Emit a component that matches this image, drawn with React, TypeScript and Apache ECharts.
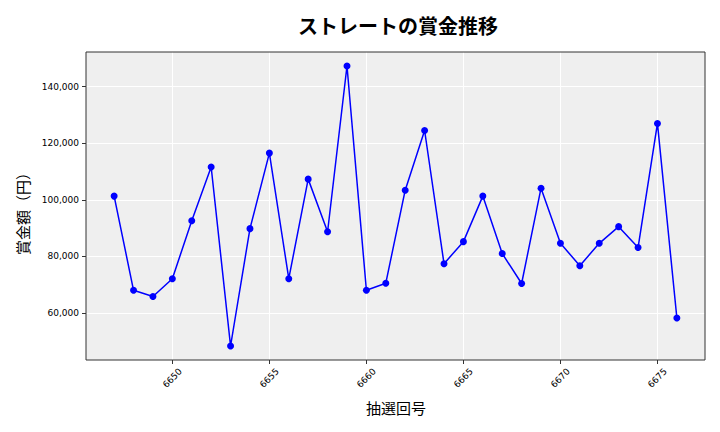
import React, { useEffect, useRef } from "react";
import * as echarts from "echarts";

const draws: number[] = [
  6647, 6648, 6649, 6650, 6651, 6652, 6653, 6654, 6655, 6656,
  6657, 6658, 6659, 6660, 6661, 6662, 6663, 6664, 6665, 6666,
  6667, 6668, 6669, 6670, 6671, 6672, 6673, 6674, 6675, 6676,
];
const prizes: number[] = [
  101300, 68000, 65800, 72100, 92600, 111600, 48300, 89800, 116500, 72100,
  107300, 88700, 147300, 68000, 70500, 103400, 124500, 77400, 85200, 101300,
  81000, 70400, 104100, 84600, 76700, 84600, 90500, 83100, 127000, 58200,
];
const xTicks: number[] = [6650, 6655, 6660, 6665, 6670, 6675];
const yTicks: number[] = [60000, 80000, 100000, 120000, 140000];

const title = "ストレートの賞金推移";
const xName = "抽選回号";
const yName = "賞金額（円）";

const CJK = '"Noto Sans CJK JP", "Noto Sans", sans-serif';
const TICKFONT = '"DejaVu Sans", sans-serif';

export default function App() {
  const ref = useRef<HTMLDivElement>(null);
  useEffect(() => {
    if (!ref.current) return;
    const chart = echarts.init(ref.current, null, { renderer: "svg" });
    const xMinD = Math.min(...draws), xMaxD = Math.max(...draws);
    const yMinD = Math.min(...prizes), yMaxD = Math.max(...prizes);
    const xPad = (xMaxD - xMinD) * 0.05;
    const yPad = (yMaxD - yMinD) * 0.05;
    const L = 86, T = 52, R = 705, B = 360;
    chart.setOption({
      animation: false,
      backgroundColor: "#ffffff",
      grid: {
        left: L, top: T, right: 720 - R, bottom: 432 - B,
        show: true, backgroundColor: "#efefef", borderWidth: 0,
      },
      xAxis: {
        type: "value",
        min: xMinD - xPad,
        max: xMaxD + xPad,
        minInterval: 5,
        maxInterval: 5,
        axisLine: { show: false },
        axisTick: { show: true, length: 4, customValues: xTicks, lineStyle: { color: "#333" } },
        axisLabel: {
          customValues: xTicks,
          rotate: 45,
          align: "center",
          verticalAlign: "middle",
          margin: 18,
          fontSize: 9,
          fontFamily: TICKFONT,
          color: "#000",
          formatter: (v: number) => String(Math.round(v)),
        },
        splitLine: { show: true, lineStyle: { color: "#ffffff", width: 1 } },
      },
      yAxis: {
        type: "value",
        min: yMinD - yPad,
        max: yMaxD + yPad,
        minInterval: 20000,
        maxInterval: 20000,
        axisLine: { show: false },
        axisTick: { show: true, length: 4, customValues: yTicks, lineStyle: { color: "#333" } },
        axisLabel: {
          customValues: yTicks,
          margin: 7,
          fontSize: 9,
          fontFamily: TICKFONT,
          color: "#000",
          formatter: (v: number) => Math.round(v).toLocaleString("en-US"),
        },
        splitLine: { show: true, lineStyle: { color: "#ffffff", width: 1 } },
      },
      series: [
        {
          type: "line",
          data: draws.map((d, i) => [d, prizes[i]]),
          symbol: "circle",
          symbolSize: 7,
          lineStyle: { color: "#0000ff", width: 1.5 },
          itemStyle: { color: "#0000ff" },
          z: 5,
        },
      ],
      graphic: [
        {
          type: "rect",
          z: 100,
          silent: true,
          shape: { x: L, y: T, width: R - L, height: B - T },
          style: { fill: "none", stroke: "#333", lineWidth: 1 },
        },
        {
          type: "text",
          x: 398, y: 25,
          style: {
            text: title, fontSize: 20, fontWeight: "bold", fontFamily: CJK,
            fill: "#000", align: "center", verticalAlign: "middle",
          },
        },
        {
          type: "text",
          x: 396, y: 407,
          style: {
            text: xName, fontSize: 15, fontFamily: CJK,
            fill: "#000", align: "center", verticalAlign: "middle",
          },
        },
        {
          type: "text",
          x: 22, y: 210,
          rotation: Math.PI / 2,
          style: {
            text: yName, fontSize: 15, fontFamily: CJK,
            fill: "#000", align: "center", verticalAlign: "middle",
          },
        },
      ],
    });
    return () => chart.dispose();
  }, []);
  return (
    <div
      ref={ref}
      style={{ position: "fixed", left: 0, top: 0, width: 720, height: 432 }}
    />
  );
}
